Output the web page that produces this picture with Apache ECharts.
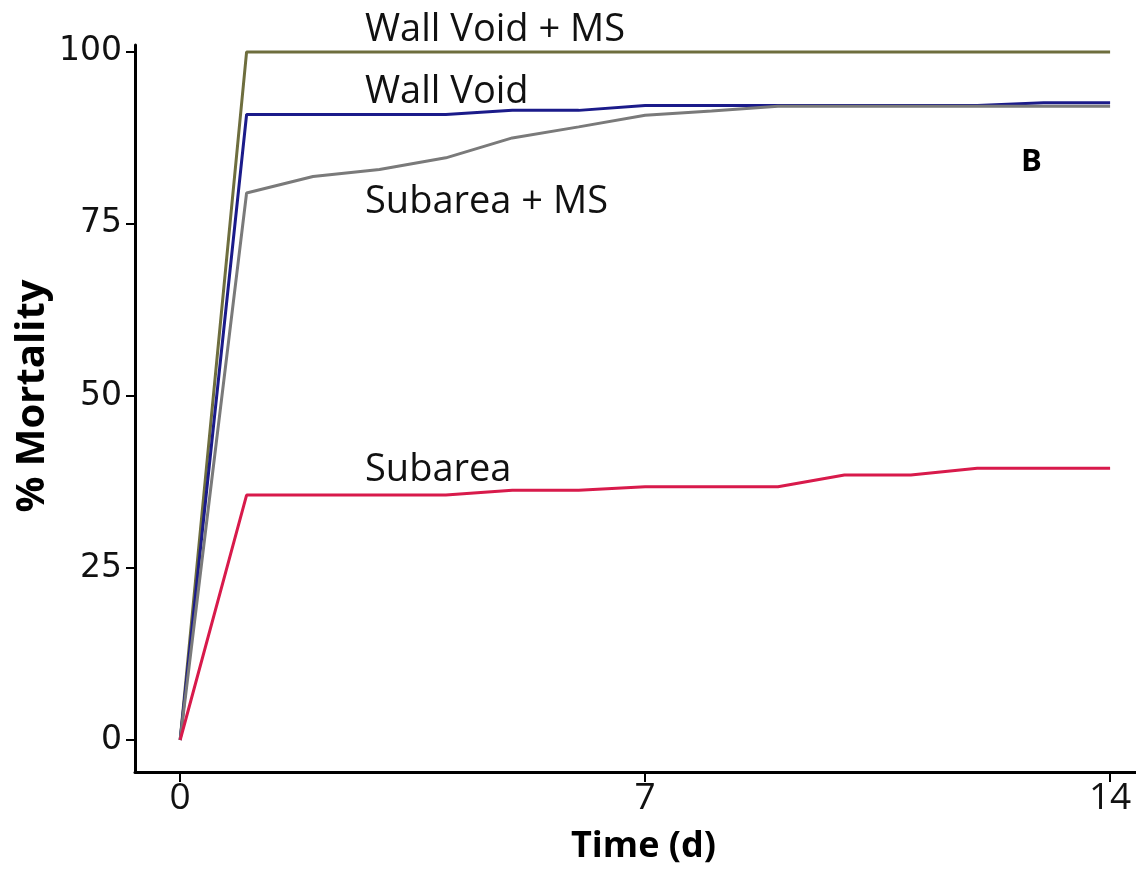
<!DOCTYPE html>
<html><head><meta charset="utf-8">
<script src="https://cdn.jsdelivr.net/npm/echarts@6/dist/echarts.min.js"></script>
<style>html,body{margin:0;padding:0;background:#fff}#c{width:1136px;height:871px}</style>
</head><body><div id="c"></div>
<script>
const days = [0,1,2,3,4,5,6,7,8,9,10,11,12,13,14];
const wallVoidMS = [0,100,100,100,100,100,100,100,100,100,100,100,100,100,100];
const wallVoid = [0,90.9,90.9,90.9,90.9,91.5,91.5,92.2,92.2,92.2,92.2,92.2,92.2,92.6,92.6];
const subareaMS = [0,79.5,81.9,82.9,84.6,87.5,89.1,90.8,91.4,92.1,92.1,92.1,92.1,92.1,92.1];
const subarea = [0,35.6,35.6,35.6,35.6,36.3,36.3,36.8,36.8,36.8,38.5,38.5,39.5,39.5,39.5];
const xTicks = [0,7,14];
const yTicks = [0,25,50,75,100];
const names = ['Wall Void + MS','Wall Void','Subarea + MS','Subarea'];
const colors = ['#6e6e3e','#1b1b8a','#7a7a7a','#d81a4b'];
const seriesData = [wallVoidMS, wallVoid, subareaMS, subarea];

const chart = echarts.init(document.getElementById('c'));
const lbl = (text, x, y) => ({type:'text', left:x, top:y, style:{text, font:'38px "Open Sans", sans-serif', fill:'#111'}});
chart.setOption({
  animation:false,
  grid:{left:135, right:0, top:45, bottom:99, containLabel:false},
  xAxis:{type:'value', min:-0.68, max:14.39,
    axisLine:{show:true, onZero:false, lineStyle:{color:'#000', width:3}},
    axisTick:{show:true, length:10, inside:false, customValues:xTicks, lineStyle:{color:'#000', width:2}},
    axisLabel:{customValues:xTicks, color:'#111', fontSize:37, fontFamily:'"Open Sans", sans-serif', margin:8},
    splitLine:{show:false}},
  yAxis:{type:'value', min:-4.65, max:101,
    axisLine:{show:true, onZero:false, lineStyle:{color:'#000', width:3}},
    axisTick:{show:true, length:9, customValues:yTicks, lineStyle:{color:'#000', width:2}},
    axisLabel:{customValues:yTicks, color:'#111', fontSize:33, fontFamily:'"DejaVu Sans", sans-serif', margin:13},
    splitLine:{show:false}},
  series: seriesData.map((d,i)=>({
    type:'line', name:names[i], data:days.map((t,j)=>[t,d[j]]),
    showSymbol:false, symbol:'none', lineStyle:{color:colors[i], width:3}, z:2+i
  })),
  graphic:[
    lbl('Wall Void + MS', 365, 11),
    lbl('Wall Void', 365, 73),
    lbl('Subarea + MS', 365, 183),
    lbl('Subarea', 365, 451),
    {type:'text', left:1021, top:147, style:{text:'B', font:'bold 31px "Open Sans", sans-serif', fill:'#000'}},
    {type:'text', left:571, top:829, style:{text:'Time (d)', font:'bold 36px "Open Sans", sans-serif', fill:'#000'}},
    {type:'text', x:33, y:396, rotation:Math.PI/2, style:{text:'% Mortality', font:'bold 40px "Open Sans", sans-serif', fill:'#000', align:'center', verticalAlign:'middle'}}
  ]
});
</script></body></html>
